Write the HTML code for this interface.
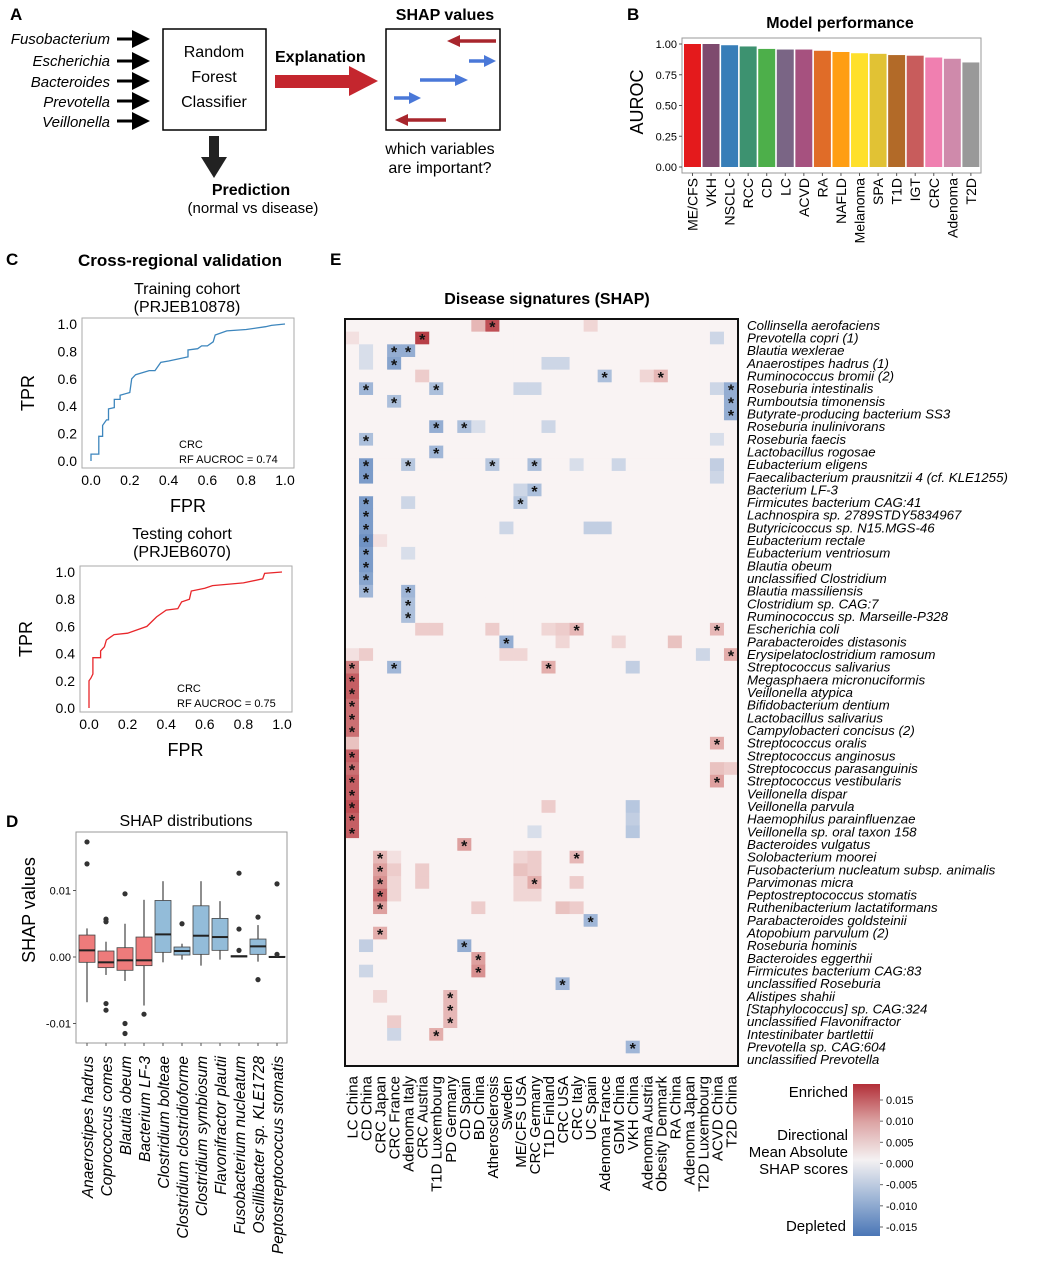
<!DOCTYPE html>
<html><head><meta charset="utf-8"><style>
html,body{margin:0;padding:0;background:#fff;}
svg{display:block;font-family:"Liberation Sans",Arial,sans-serif;}
</style></head><body>
<svg id="fig" width="1050" height="1280" viewBox="0 0 1050 1280" xmlns="http://www.w3.org/2000/svg">
<defs>
<marker id="ah" markerWidth="6" markerHeight="6" refX="5" refY="3" orient="auto" markerUnits="strokeWidth"><path d="M0,0 L6,3 L0,6 z" fill="#000"/></marker>
<linearGradient id="cbar" x1="0" y1="1" x2="0" y2="0">
<stop offset="0" stop-color="#4a76b6"/><stop offset="0.25" stop-color="#9fb6d6"/><stop offset="0.5" stop-color="#f4f1f2"/><stop offset="0.75" stop-color="#dca4a4"/><stop offset="1" stop-color="#b22f38"/>
</linearGradient>
</defs>
<!-- Panel A -->
<g>
<text x="10" y="20" font-size="17" font-weight="bold">A</text>
<g font-size="15" font-style="italic" text-anchor="end">
<text x="110" y="44">Fusobacterium</text><text x="110" y="66">Escherichia</text><text x="110" y="87">Bacteroides</text><text x="110" y="107">Prevotella</text><text x="110" y="127">Veillonella</text>
</g>
<g stroke="#000" stroke-width="3" marker-end="url(#ah)">
<line x1="117" y1="39" x2="147" y2="39"/><line x1="117" y1="61" x2="147" y2="61"/><line x1="117" y1="81" x2="147" y2="81"/><line x1="117" y1="101" x2="147" y2="101"/><line x1="117" y1="121" x2="147" y2="121"/>
</g>
<rect x="163" y="29" width="103" height="101" fill="none" stroke="#000" stroke-width="1.5"/>
<g font-size="16" text-anchor="middle"><text x="214" y="57">Random</text><text x="214" y="82">Forest</text><text x="214" y="107">Classifier</text></g>
<rect x="209" y="136" width="10" height="22" fill="#222"/>
<polygon points="201,157 227,157 214,178" fill="#222"/>
<text x="251" y="195" font-size="16" font-weight="bold" text-anchor="middle">Prediction</text>
<text x="253" y="213" font-size="15" text-anchor="middle">(normal vs disease)</text>
<text x="275" y="62" font-size="16" font-weight="bold">Explanation</text>
<rect x="275" y="75" width="75" height="13" fill="#c4262e"/>
<polygon points="349,66 378,81 349,96" fill="#c4262e"/>
<text x="445" y="20" font-size="16" font-weight="bold" text-anchor="middle">SHAP values</text>
<rect x="386" y="29" width="114" height="101" fill="none" stroke="#000" stroke-width="1.5"/>
<g stroke-width="3.5">
<line x1="496" y1="41" x2="458" y2="41" stroke="#a8262d"/><polygon points="460,35 447,41 460,47" fill="#a8262d"/>
<line x1="469" y1="61" x2="486" y2="61" stroke="#4a78d8"/><polygon points="484,55 496,61 484,67" fill="#4a78d8"/>
<line x1="420" y1="80" x2="457" y2="80" stroke="#4a78d8"/><polygon points="455,74 468,80 455,86" fill="#4a78d8"/>
<line x1="394" y1="98" x2="411" y2="98" stroke="#4a78d8"/><polygon points="409,92 421,98 409,104" fill="#4a78d8"/>
<line x1="446" y1="120" x2="406" y2="120" stroke="#a8262d"/><polygon points="408,114 395,120 408,126" fill="#a8262d"/>
</g>
<g font-size="16" text-anchor="middle"><text x="440" y="154">which variables</text><text x="440" y="173">are important?</text></g>
</g>
<!-- Panel B -->
<g id="panelB">
<text x="627" y="20" font-size="17" font-weight="bold">B</text>
<text x="840" y="28" font-size="16" font-weight="bold" text-anchor="middle">Model performance</text>
<rect x="682" y="38" width="299" height="135" fill="none" stroke="#999"/>
<text transform="translate(643,102) rotate(-90)" font-size="18" text-anchor="middle">AUROC</text>
</g>
<!-- Panel C -->
<g id="panelC">
<text x="6" y="265" font-size="17" font-weight="bold">C</text>
<text x="180" y="266" font-size="17" font-weight="bold" text-anchor="middle">Cross-regional validation</text>
<text x="187" y="294" font-size="16" text-anchor="middle">Training cohort</text>
<text x="187" y="312" font-size="16" text-anchor="middle">(PRJEB10878)</text>
<text x="182" y="539" font-size="16" text-anchor="middle">Testing cohort</text>
<text x="182" y="557" font-size="16" text-anchor="middle">(PRJEB6070)</text>
</g>
<!-- Panel D -->
<g id="panelD">
<text x="6" y="827" font-size="17" font-weight="bold">D</text>
<text x="186" y="826" font-size="16" text-anchor="middle">SHAP distributions</text>
<rect x="76" y="832" width="211" height="211" fill="none" stroke="#999"/>
<text transform="translate(35,910) rotate(-90)" font-size="18" text-anchor="middle">SHAP values</text>
</g>
<!-- Panel E -->
<g id="panelE">
<text x="330" y="265" font-size="17" font-weight="bold">E</text>
<text x="547" y="304" font-size="16" font-weight="bold" text-anchor="middle">Disease signatures (SHAP)</text>
</g>
<!-- Legend -->
<g>
<rect x="853" y="1084" width="27" height="152" fill="url(#cbar)"/>
<g font-size="15" text-anchor="end">
<text x="848" y="1097">Enriched</text><text x="848" y="1140">Directional</text><text x="848" y="1157">Mean Absolute</text><text x="848" y="1174">SHAP scores</text><text x="846" y="1231">Depleted</text>
</g>
<g id="cbticks" font-size="11"></g>
</g>
</svg>
<script>
const NS="http://www.w3.org/2000/svg";
const svg=document.getElementById('fig');
function mk(tag,attrs,parent,text){const e=document.createElementNS(NS,tag);for(const k in attrs)e.setAttribute(k,attrs[k]);if(text!==undefined)e.textContent=text;(parent||svg).appendChild(e);return e;}

// ---------- Panel B data ----------
const bCategories=["ME/CFS","VKH","NSCLC","RCC","CD","LC","ACVD","RA","NAFLD","Melanoma","SPA","T1D","IGT","CRC","Adenoma","T2D"];
const bValues=[1.0,1.0,0.99,0.98,0.96,0.955,0.955,0.945,0.935,0.925,0.92,0.91,0.905,0.89,0.88,0.85];
const bColors=["#e41a1c","#7e4a6e","#377eb8","#3d9270","#4daf4a","#7a6585","#a6517f","#e06c28","#ff9e13","#ffe02b","#e1c234","#b26a28","#c85c5c","#f07fb0","#cf8aab","#999999"];
const bTicks=[0,0.25,0.5,0.75,1.0];
const bTickLabels=["0.00","0.25","0.50","0.75","1.00"];
(function(){
 const g=document.getElementById('panelB');
 const y=v=>167-v*123;const x0=684,slot=18.56;
 bTicks.forEach((t,i)=>{
  const tl=mk('line',{x1:679,x2:682,y1:y(t),y2:y(t),stroke:'#555'},g);
  
  const tx=mk('text',{x:677,y:y(t)+4,'font-size':11,'text-anchor':'end'},g,bTickLabels[i]);
  
 });
 bCategories.forEach((c,i)=>{
  const bx=x0+i*slot;
  const r=mk('rect',{x:bx,y:y(bValues[i]),width:slot-1.6,height:y(0)-y(bValues[i]),fill:bColors[i]},g);
  
  const cx=bx+(slot-1.6)/2;
  const tk=mk('line',{x1:cx,x2:cx,y1:173,y2:176,stroke:'#555'},g);
  
  const t=mk('text',{transform:`translate(${cx+5},178) rotate(-90)`,'font-size':14,'text-anchor':'end'},g,c);
  
 });
})();

// ---------- Panel C data ----------
const trainFPR=[0,0,0.04,0.04,0.06,0.06,0.08,0.09,0.09,0.12,0.12,0.15,0.15,0.2,0.21,0.23,0.3,0.33,0.36,0.4,0.5,0.5,0.55,0.57,0.6,0.63,0.64,0.7,0.8,0.9,0.93,1.0];
const trainTPR=[0,0.05,0.05,0.18,0.18,0.26,0.3,0.3,0.38,0.39,0.45,0.45,0.48,0.5,0.6,0.63,0.66,0.66,0.72,0.73,0.76,0.81,0.82,0.84,0.84,0.87,0.92,0.95,0.96,0.98,0.99,1.0];
const testFPR=[0,0,0.01,0.02,0.02,0.06,0.06,0.08,0.09,0.11,0.13,0.2,0.24,0.3,0.35,0.4,0.46,0.48,0.52,0.53,0.6,0.64,0.8,0.9,0.91,1.0];
const testTPR=[0,0.2,0.22,0.25,0.37,0.37,0.42,0.45,0.5,0.52,0.54,0.55,0.57,0.6,0.67,0.72,0.73,0.78,0.8,0.86,0.88,0.9,0.92,0.95,0.99,1.0];
const rocTicks=[0,0.2,0.4,0.6,0.8,1.0];
const rocTickLabels=["0.0","0.2","0.4","0.6","0.8","1.0"];
function roc(box,fx0,fx1,fy0,fy1,fpr,tpr,color,auc,name){
 const g=document.getElementById('panelC');
 const f=mk('rect',{x:box[0],y:box[1],width:box[2],height:box[3],fill:'none',stroke:'#aaa'},g);
 
 const X=v=>fx0+v*(fx1-fx0),Y=v=>fy0+v*(fy1-fy0);
 rocTicks.forEach((t,i)=>{
  const a=mk('text',{x:X(t),y:box[1]+box[3]+17,'font-size':14,'text-anchor':'middle'},g,rocTickLabels[i]);
  
  const b=mk('text',{x:box[0]-5,y:Y(t)+5,'font-size':14,'text-anchor':'end'},g,rocTickLabels[i]);
  
 });
 let d='';fpr.forEach((v,i)=>{d+=(i?'L':'M')+X(v).toFixed(1)+','+Y(tpr[i]).toFixed(1);});
 const p=mk('path',{d:d,fill:'none',stroke:color,'stroke-width':1.3},g);
 
 const c1=mk('text',{x:box[0]+97,y:box[1]+box[3]-20,'font-size':11},g,'CRC');
 
 const c2=mk('text',{x:box[0]+97,y:box[1]+box[3]-5,'font-size':11},g,'RF AUCROC = '+auc);
 
 const t1=mk('text',{transform:`translate(${box[0]-48},${(box[1]+box[3]/2)}) rotate(-90)`,'font-size':18,'text-anchor':'middle'},g,'TPR');
 
 const t2=mk('text',{x:X(0.5),y:box[1]+box[3]+44,'font-size':18,'text-anchor':'middle'},g,'FPR');
 
}
roc([82,318,212,150],91,285,461,324,trainFPR,trainTPR,'#3d86bd','0.74','training');
roc([80,566,212,146],89,282,708,572,testFPR,testTPR,'#e8262a','0.75','testing');

// ---------- Panel D data ----------
const dCategories=["Anaerostipes hadrus","Coprococcus comes","Blautia obeum","Bacterium LF-3","Clostridium bolteae","Clostridium clostridioforme","Clostridium symbiosum","Flavonifractor plautii","Fusobacterium nucleatum","Oscillibacter sp. KLE1728","Peptostreptococcus stomatis"];
const dQ1=[-0.0008,-0.0016,-0.002,-0.0013,0.0007,0.0003,0.0004,0.001,0,0.0004,0];
const dMed=[0.001,-0.0008,-0.0005,-0.0005,0.0034,0.0009,0.0032,0.003,0.0001,0.0016,0];
const dQ3=[0.0033,0.0009,0.0014,0.003,0.0085,0.0015,0.0077,0.0058,0.0002,0.0027,0.0001];
const dLo=[-0.0068,-0.0027,-0.0036,-0.0073,-0.0008,-0.0004,-0.0013,-0.0004,0,-0.0007,0];
const dHi=[0.0043,0.0023,0.005,0.0086,0.0114,0.002,0.0114,0.0084,0.0002,0.0048,0.0001];
const dOutliers=[[0.0173,0.014],[0.0057,0.0053,-0.007,-0.008],[0.0095,-0.01,-0.0115],[-0.0086],[],[0.005],[],[],[0.0126,0.0042,0.001],[0.006,-0.0034],[0.011,0.0004]];
const dGroup=[0,0,0,0,1,1,1,1,1,1,1];
const dTicks=[-0.01,0,0.01];
const dTickLabels=["-0.01","0.00","0.01"];
(function(){
 const g=document.getElementById('panelD');
 const Y=v=>957-v*6650;const X=i=>87+i*19;const cols=["#ee7b7b","#93bcd9"];
 dTicks.forEach((t,i)=>{
  const a=mk('text',{x:71,y:Y(t)+4,'font-size':11,'text-anchor':'end'},g,dTickLabels[i]);
  
  const b=mk('line',{x1:73,x2:76,y1:Y(t),y2:Y(t),stroke:'#555'},g);
  
 });
 dCategories.forEach((c,i)=>{
  const x=X(i);
  const w=mk('line',{x1:x,x2:x,y1:Y(dLo[i]),y2:Y(dHi[i]),stroke:'#444','stroke-width':1.2},g);
  
  const r=mk('rect',{x:x-8,y:Y(dQ3[i]),width:16,height:Math.max(1,Y(dQ1[i])-Y(dQ3[i])),fill:cols[dGroup[i]],stroke:'#444','stroke-width':0.8},g);
  
  const m=mk('line',{x1:x-8,x2:x+8,y1:Y(dMed[i]),y2:Y(dMed[i]),stroke:'#222','stroke-width':2},g);
  
  dOutliers[i].forEach(o=>{
   const pt=mk('circle',{cx:x,cy:Y(o),r:2.6,fill:'#333'},g);
   
  });
  const tk=mk('line',{x1:x,x2:x,y1:1043,y2:1046,stroke:'#555'},g);
  
  const t=mk('text',{transform:`translate(${x+6},1056) rotate(-90)`,'font-size':15.5,'font-style':'italic','text-anchor':'end'},g,c);
  
 });
})();

// ---------- Panel E data ----------
const eRows=["Collinsella aerofaciens","Prevotella copri (1)","Blautia wexlerae","Anaerostipes hadrus (1)","Ruminococcus bromii (2)","Roseburia intestinalis","Rumboutsia timonensis","Butyrate-producing bacterium SS3","Roseburia inulinivorans","Roseburia faecis","Lactobacillus rogosae","Eubacterium eligens","Faecalibacterium prausnitzii 4 (cf. KLE1255)","Bacterium LF-3","Firmicutes bacterium CAG:41","Lachnospira sp. 2789STDY5834967","Butyricicoccus sp. N15.MGS-46","Eubacterium rectale","Eubacterium ventriosum","Blautia obeum","unclassified Clostridium","Blautia massiliensis","Clostridium sp. CAG:7","Ruminococcus sp. Marseille-P328","Escherichia coli","Parabacteroides distasonis","Erysipelatoclostridium ramosum","Streptococcus salivarius","Megasphaera micronuciformis","Veillonella atypica","Bifidobacterium dentium","Lactobacillus salivarius","Campylobacteri concisus (2)","Streptococcus oralis","Streptococcus anginosus","Streptococcus parasanguinis","Streptococcus vestibularis","Veillonella dispar","Veillonella parvula","Haemophilus parainfluenzae","Veillonella sp. oral taxon 158","Bacteroides vulgatus","Solobacterium moorei","Fusobacterium nucleatum subsp. animalis","Parvimonas micra","Peptostreptococcus stomatis","Ruthenibacterium lactatiformans","Parabacteroides goldsteinii","Atopobium parvulum (2)","Roseburia hominis","Bacteroides eggerthii","Firmicutes bacterium CAG:83","unclassified Roseburia","Alistipes shahii","[Staphylococcus] sp. CAG:324","unclassified Flavonifractor","Intestinibater bartlettii","Prevotella sp. CAG:604","unclassified Prevotella"];
const eCols=["LC China","CD China","CRC Japan","CRC France","Adenoma Italy","CRC Austria","T1D Luxembourg","PD Germany","CD Spain","BD China","Atherosclerosis","Sweden","ME/CFS USA","CRC Germany","T1D Finland","CRC USA","CRC Italy","UC Spain","Adenoma France","GDM China","VKH China","Adenoma Austria","Obesity Denmark","RA China","Adenoma Japan","T2D Luxembourg","ACVD China","T2D China"];
const eBaseline=0.0002;
// significant cells: [row, col, value]
const eStars=[[0,10,0.013],[1,5,0.014],[2,3,-0.009],[2,4,-0.009],[3,3,-0.01],[4,18,-0.007],[4,22,0.006],[5,1,-0.008],[5,6,-0.007],[5,27,-0.009],[6,3,-0.007],[6,27,-0.009],[7,27,-0.009],[8,6,-0.009],[8,8,-0.007],[9,1,-0.007],[10,6,-0.008],[11,1,-0.011],[11,4,-0.006],[11,10,-0.006],[11,13,-0.007],[12,1,-0.011],[13,13,-0.007],[14,1,-0.011],[14,12,-0.006],[15,1,-0.011],[16,1,-0.011],[17,1,-0.012],[18,1,-0.011],[19,1,-0.011],[20,1,-0.01],[21,1,-0.008],[21,4,-0.008],[22,4,-0.007],[23,4,-0.007],[24,16,0.006],[24,26,0.006],[25,11,-0.009],[26,27,0.007],[27,0,0.01],[27,3,-0.008],[27,14,0.007],[28,0,0.012],[29,0,0.012],[30,0,0.011],[31,0,0.011],[32,0,0.011],[33,26,0.007],[34,0,0.012],[35,0,0.011],[36,0,0.012],[36,26,0.008],[37,0,0.012],[38,0,0.013],[39,0,0.012],[40,0,0.012],[41,8,0.008],[42,2,0.006],[42,16,0.006],[43,2,0.008],[44,2,0.009],[44,13,0.007],[45,2,0.011],[46,2,0.008],[47,17,-0.008],[48,2,0.007],[49,8,-0.009],[50,9,0.008],[51,9,0.009],[52,15,-0.008],[53,7,0.006],[54,7,0.006],[55,7,0.006],[56,6,0.007],[57,20,-0.008]];
// other shaded cells: [row, col, value]
const eCells=[[0,9,0.006],[0,17,0.003],[1,0,0.002],[1,26,-0.004],[2,1,-0.003],[3,1,-0.003],[3,14,-0.004],[3,15,-0.004],[4,5,0.004],[4,21,0.003],[5,12,-0.004],[5,13,-0.004],[5,26,-0.004],[8,9,-0.003],[8,14,-0.004],[9,26,-0.003],[11,16,-0.003],[11,19,-0.004],[11,26,-0.005],[12,26,-0.004],[13,12,-0.004],[14,4,-0.004],[16,11,-0.004],[16,17,-0.005],[16,18,-0.005],[17,2,0.002],[18,4,-0.003],[24,5,0.004],[24,6,0.004],[24,10,0.004],[24,14,0.003],[24,15,0.004],[25,15,0.003],[25,19,0.003],[25,23,0.005],[26,0,0.002],[26,1,0.004],[26,11,0.003],[26,12,0.003],[26,25,-0.004],[27,20,-0.005],[33,0,0.005],[35,26,0.005],[35,27,0.004],[38,14,0.004],[38,20,-0.006],[39,20,-0.005],[40,20,-0.006],[40,13,-0.003],[42,3,0.002],[42,12,0.003],[42,13,0.004],[43,3,0.004],[43,5,0.004],[43,12,0.005],[43,13,0.004],[44,3,0.003],[44,5,0.004],[44,12,0.003],[44,16,0.004],[45,3,0.003],[45,12,0.003],[45,13,0.003],[46,9,0.004],[46,15,0.005],[46,16,0.004],[49,1,-0.005],[51,1,-0.004],[53,2,0.003],[55,3,0.004],[56,3,-0.004]];
const cbTicks=[-0.015,-0.01,-0.005,0,0.005,0.01,0.015];
const cbTickLabels=["-0.015","-0.010","-0.005","0.000","0.005","0.010","0.015"];
function colorOf(v){
 const stops=[[-0.015,[74,118,182]],[-0.0075,[166,187,217]],[0,[250,245,245]],[0.0075,[225,168,166]],[0.015,[178,47,56]]];
 v=Math.max(-0.015,Math.min(0.015,v));
 for(let i=0;i<stops.length-1;i++){const a=stops[i],b=stops[i+1];if(v<=b[0]){const t=(v-a[0])/(b[0]-a[0]);const c=a[1].map((x,k)=>Math.round(x+(b[1][k]-x)*t));return `rgb(${c[0]},${c[1]},${c[2]})`;}}
 return 'rgb(178,47,56)';
}
(function(){
 const g=document.getElementById('panelE');
 const x0=345,y0=319,cw=(738-345)/eCols.length,rh=(1066-319)/eRows.length;
 const X=c=>x0+c*cw,Y=r=>y0+r*rh;
 const grid=eRows.map(()=>eCols.map(()=>eBaseline));
 eCells.forEach(([r,c,v])=>{grid[r][c]=v;});
 eStars.forEach(([r,c,v])=>{grid[r][c]=v;});
 grid.forEach((row,r)=>row.forEach((v,c)=>{
  const cell=mk('rect',{x:X(c).toFixed(2),y:Y(r).toFixed(2),width:(cw+0.4).toFixed(2),height:(rh+0.4).toFixed(2),fill:colorOf(v)},g);
  
 }));
 eStars.forEach(([r,c])=>{
  const s=mk('text',{x:X(c)+cw/2,y:Y(r)+rh/2+7,'font-size':16,'font-weight':'bold','text-anchor':'middle',fill:'#111'},g,'*');
  
 });
 const fr=mk('rect',{x:x0,y:y0,width:738-345,height:1066-319,fill:'none',stroke:'#111','stroke-width':2},g);
 
 eRows.forEach((n,r)=>{
  const t=mk('text',{x:747,y:Y(r)+rh/2+4.5,'font-size':13.3,'font-style':'italic'},g,n);
  
 });
 eCols.forEach((n,c)=>{
  const t=mk('text',{transform:`translate(${X(c)+cw/2+5.5},1076) rotate(-90)`,'font-size':15,'text-anchor':'end'},g,n);
  
 });
 const cb=document.getElementById('cbticks');
 const CY=v=>1163.5-v*4233;
 cbTicks.forEach((t,i)=>{
  const l=mk('line',{x1:880,x2:883,y1:CY(t),y2:CY(t),stroke:'#666'},cb);
  
  const tx=mk('text',{x:886,y:CY(t)+4},cb,cbTickLabels[i]);
  
 });
})();
</script>
</body></html>
